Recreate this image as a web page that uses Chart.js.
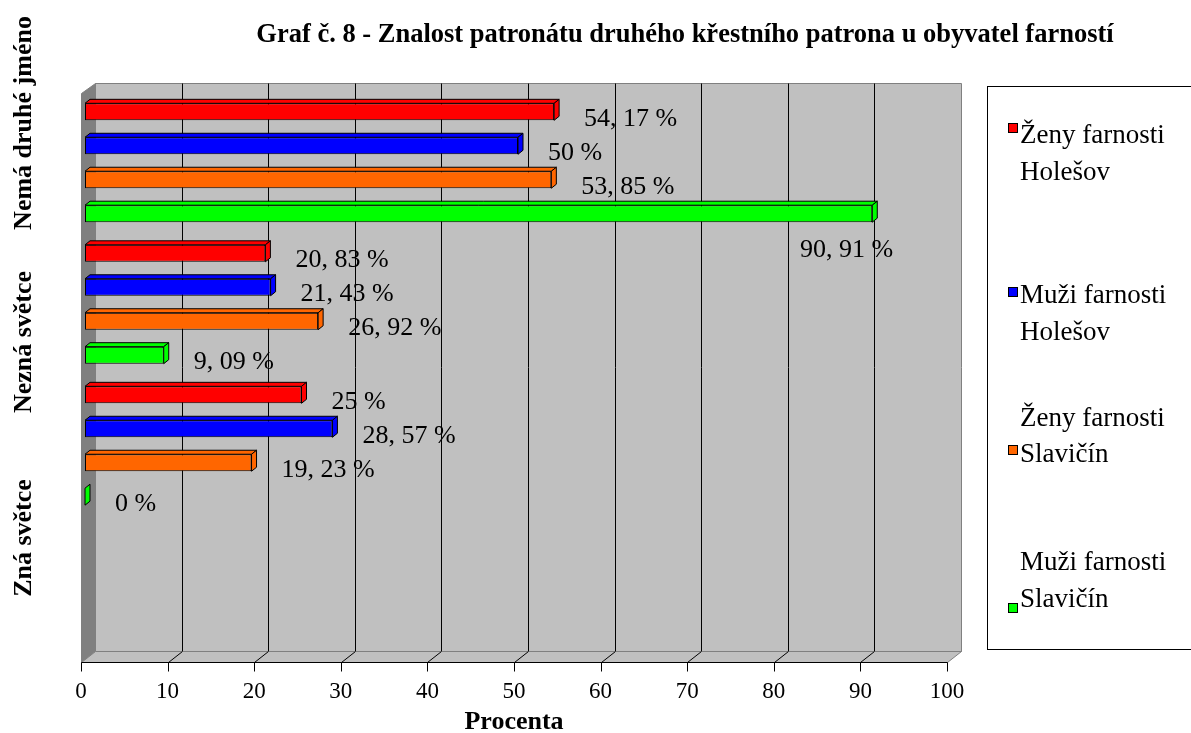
<!DOCTYPE html>
<html>
<head>
<meta charset="utf-8">
<script src="https://cdn.jsdelivr.net/npm/chart.js@4"></script>
<style>
  html, body { margin: 0; padding: 0; background: #fff; }
  #chart { display: block; }
</style>
</head>
<body>
<canvas id="chart" width="1191" height="733"></canvas>
<script>
const chartTitle = 'Graf č. 8 - Znalost patronátu druhého křestního patrona u obyvatel farností';
const axisTitle = 'Procenta';
const categories = ['Nemá druhé jméno', 'Nezná světce', 'Zná světce'];
const seriesNames = ['Ženy farnosti Holešov', 'Muži farnosti Holešov', 'Ženy farnosti Slavičín', 'Muži farnosti Slavičín'];
const zenyHolesov = [54.17, 20.83, 25];
const muziHolesov = [50, 21.43, 28.57];
const zenySlavicin = [53.85, 26.92, 19.23];
const muziSlavicin = [90.91, 9.09, 0];
const xMin = 0, xMax = 100, xStep = 10;
const colors = ['#ff0000', '#0000ff', '#ff6600', '#00ff00'];

const SERIF = '"Liberation Serif", "Times New Roman", serif';
Chart.defaults.font.family = SERIF;
Chart.defaults.color = '#000';

// 3D look
const DX = 14, DY = 11;        // depth of the walls
const SHIFT = 4, BDX = 5, BDY = 4; // bar offset and bar depth

function fmt(v) {
  if (Number.isInteger(v)) return v + ' %';
  return v.toFixed(2).replace('.', ', ') + ' %';
}

function poly(ctx, pts, fill, stroke) {
  ctx.beginPath();
  ctx.moveTo(pts[0][0], pts[0][1]);
  for (let i = 1; i < pts.length; i++) ctx.lineTo(pts[i][0], pts[i][1]);
  ctx.closePath();
  if (fill) { ctx.fillStyle = fill; ctx.fill(); }
  if (stroke) { ctx.strokeStyle = stroke; ctx.lineWidth = 1; ctx.stroke(); }
}

function line(ctx, x1, y1, x2, y2, color) {
  ctx.beginPath();
  ctx.moveTo(x1, y1);
  ctx.lineTo(x2, y2);
  ctx.strokeStyle = color;
  ctx.lineWidth = 1;
  ctx.stroke();
}

const scene = {
  id: 'scene',
  beforeDraw(chart) {
    const { ctx, chartArea: a, scales: { x } } = chart;
    const x0 = Math.round(x.getPixelForValue(xMin)) + 0.5;
    const x1 = Math.round(x.getPixelForValue(xMax)) + 0.5;
    const floorY = Math.round(a.bottom) + 4.5;
    const top = Math.round(a.top) - 8.5;
    const backY = floorY - DY;
    ctx.save();
    // back wall
    poly(ctx, [[x0 + DX, top], [x1 + DX, top], [x1 + DX, backY], [x0 + DX, backY]], '#c0c0c0', '#808080');
    for (let v = xMin + xStep; v < xMax; v += xStep) {
      const px = Math.round(x.getPixelForValue(v)) + 0.5;
      line(ctx, px + DX, top, px + DX, backY, '#000');
    }
    // side wall
    poly(ctx, [[x0, top + DY - 1], [x0 + DX, top], [x0 + DX, backY], [x0, floorY]], '#808080', '#808080');
    // floor
    poly(ctx, [[x0, floorY], [x0 + DX, backY], [x1 + DX, backY], [x1, floorY]], '#c0c0c0', '#808080');
    line(ctx, x0, floorY, x1, floorY, '#000');
    for (let v = xMin; v <= xMax; v += xStep) {
      const px = Math.round(x.getPixelForValue(v)) + 0.5;
      line(ctx, px, floorY, px, floorY + 9, '#000');
      if (v > xMin && v < xMax) line(ctx, px, floorY, px + DX, backY, '#000');
    }
    ctx.restore();
  },
  beforeDatasetsDraw(chart) {
    chart.ctx.save();
    chart.ctx.translate(SHIFT, 0);
  },
  afterDatasetsDraw(chart) {
    const ctx = chart.ctx;
    chart.data.datasets.forEach((ds, di) => {
      chart.getDatasetMeta(di).data.forEach(el => {
        const { x, y, base, height } = el.getProps(['x', 'y', 'base', 'height'], true);
        const t = y - height / 2, b = y + height / 2;
        const c = ds.backgroundColor;
        if (x - base > 0.5) {
          poly(ctx, [[base, t], [base + BDX, t - BDY], [x + BDX, t - BDY], [x, t]], c, '#000');
        }
        poly(ctx, [[x, t], [x + BDX, t - BDY], [x + BDX, b - BDY], [x, b]], c, '#000');
      });
    });
    ctx.restore();
  },
  afterDraw(chart) {
    const { ctx, chartArea: a } = chart;
    ctx.save();
    ctx.fillStyle = '#000';

    // value labels
    ctx.font = '26px ' + SERIF;
    ctx.textBaseline = 'middle';
    chart.data.datasets.forEach((ds, di) => {
      chart.getDatasetMeta(di).data.forEach((el, i) => {
        const v = ds.data[i];
        if (v == null) return;
        const { x, y } = el.getProps(['x', 'y'], true);
        const txt = fmt(v);
        const w = ctx.measureText(txt).width;
        let lx = x + SHIFT + 30;
        if (lx + w > a.right) {
          ctx.textAlign = 'right';
          ctx.fillText(txt, x + 25, y + 36);
        } else {
          ctx.textAlign = 'left';
          ctx.fillText(txt, lx, y + 7);
        }
      });
    });

    // title
    ctx.font = 'bold 26.5px ' + SERIF;
    ctx.textAlign = 'center';
    ctx.textBaseline = 'alphabetic';
    ctx.fillText(chartTitle, 685, 42);

    // category labels, rotated
    ctx.font = 'bold 26px ' + SERIF;
    const catY = [123, 342, 538];
    categories.forEach((c, i) => {
      ctx.save();
      ctx.translate(31, catY[i]);
      ctx.rotate(-Math.PI / 2);
      ctx.fillText(c, 0, 0);
      ctx.restore();
    });

    // legend
    ctx.strokeStyle = '#000';
    ctx.lineWidth = 1;
    ctx.strokeRect(987.5, 86.5, 220, 563);
    const items = [
      { lines: [143, 180], marker: 123 },
      { lines: [303, 340], marker: 287 },
      { lines: [426, 462], marker: 445 },
      { lines: [570, 607], marker: 603 }
    ];
    ctx.font = '27px ' + SERIF;
    ctx.textAlign = 'left';
    seriesNames.forEach((name, i) => {
      const cut = name.lastIndexOf(' ');
      const parts = [name.slice(0, cut), name.slice(cut + 1)];
      const it = items[i];
      ctx.fillStyle = colors[i];
      ctx.fillRect(1008.5, it.marker + 0.5, 9, 9);
      ctx.strokeRect(1008.5, it.marker + 0.5, 9, 9);
      ctx.fillStyle = '#000';
      parts.forEach((p, k) => ctx.fillText(p, 1020, it.lines[k]));
    });
    ctx.restore();
  }
};

const series = [zenyHolesov, muziHolesov, zenySlavicin, muziSlavicin];

new Chart(document.getElementById('chart'), {
  type: 'bar',
  data: {
    labels: [...categories, ''],
    datasets: series.map((d, i) => ({
      label: seriesNames[i],
      data: d,
      backgroundColor: colors[i],
      borderColor: '#000',
      borderWidth: 1,
      borderSkipped: false,
      categoryPercentage: 0.96,
      barPercentage: 0.5
    }))
  },
  options: {
    indexAxis: 'y',
    responsive: false,
    animation: false,
    devicePixelRatio: 1,
    layout: { padding: { left: 81, right: 244, top: 92, bottom: 0 } },
    plugins: {
      legend: { display: false },
      tooltip: { enabled: false }
    },
    scales: {
      x: {
        min: xMin,
        max: xMax,
        grid: { display: false, drawTicks: false },
        border: { display: false },
        ticks: { stepSize: xStep, autoSkip: false, padding: 20, font: { size: 23 }, color: '#000' },
        title: { display: true, text: axisTitle, font: { size: 26, weight: 'bold', lineHeight: 0.85 }, padding: { top: 0, bottom: 0 }, color: '#000' },
        afterFit(scale) { scale.height = 75; }
      },
      y: { display: false }
    }
  },
  plugins: [scene]
});
</script>
</body>
</html>
